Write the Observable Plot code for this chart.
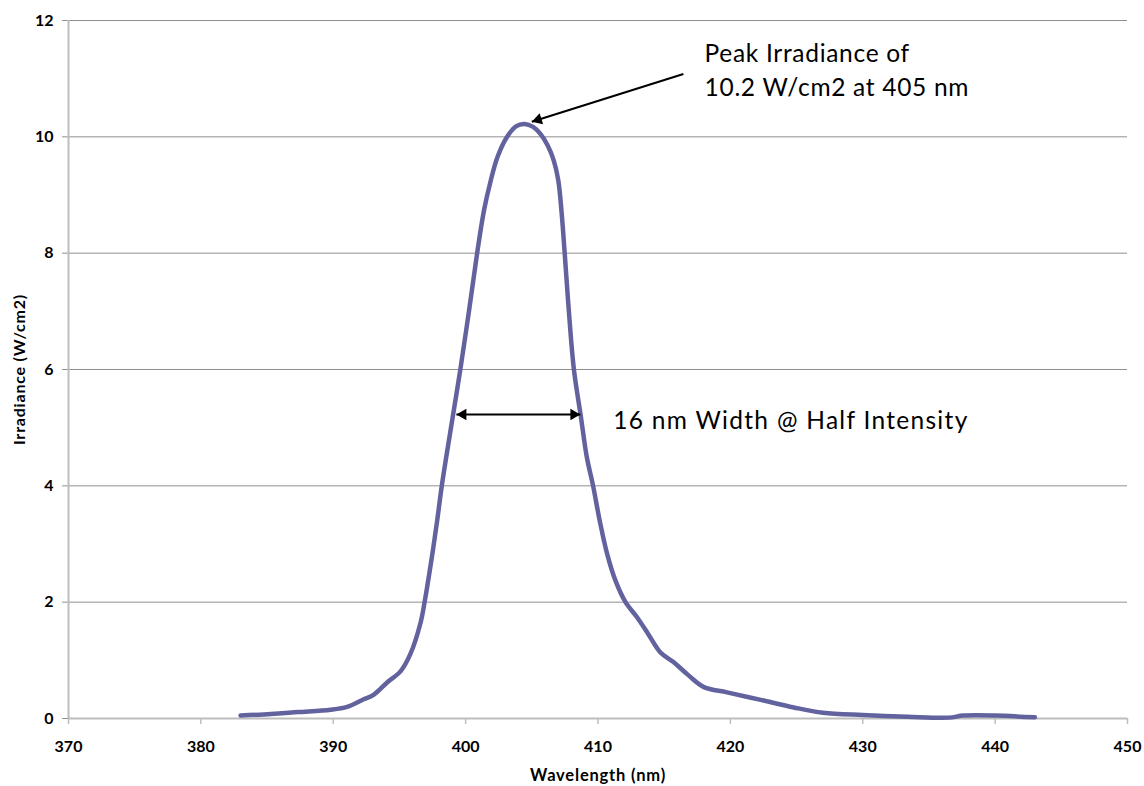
<!DOCTYPE html>
<html>
<head>
<meta charset="utf-8">
<script src="https://cdn.jsdelivr.net/npm/d3@7"></script>
<script src="https://cdn.jsdelivr.net/npm/@observablehq/plot@0.6"></script>
<style>
  html, body { margin: 0; padding: 0; background: #fff; }
  #chart { width: 1144px; height: 786px; }
</style>
</head>
<body>
<div id="chart"></div>
<script>
// Spectrum: wavelength (nm) and irradiance (W/cm2)
const wavelength = [383, 384.75, 387.3, 389.8, 391.05, 392.3, 393.07, 394.07, 395.08, 395.83, 396.6, 396.9, 397.4, 397.85, 398.2, 398.98, 399.6, 400.25, 400.87, 401.4, 401.9, 402.4, 403.1, 403.8, 404.45, 405.1, 405.65, 406.2, 406.66, 407.0, 407.25, 407.5, 407.8, 408.18, 408.7, 409.15, 409.63, 410.13, 410.69, 411.32, 412.08, 412.95, 413.8, 414.7, 415.7, 416.8, 418.0, 419.75, 422.3, 424.8, 427.0, 430.0, 433.4, 436.5, 437.6, 440.0, 443.0];
const irradiance = [0.05, 0.07, 0.11, 0.15, 0.2, 0.33, 0.41, 0.62, 0.81, 1.11, 1.65, 2.0, 2.7, 3.4, 4.0, 5.12, 6.0, 7.0, 8.0, 8.75, 9.25, 9.65, 9.99, 10.18, 10.22, 10.17, 10.05, 9.85, 9.59, 9.25, 8.7, 7.95, 7.0, 6.0, 5.2, 4.5, 4.0, 3.4, 2.83, 2.37, 2.0, 1.74, 1.45, 1.14, 0.97, 0.75, 0.54, 0.45, 0.32, 0.19, 0.1, 0.06, 0.03, 0.015, 0.05, 0.05, 0.02];

const xTicks = [370, 380, 390, 400, 410, 420, 430, 440, 450];
const yTicks = [0, 2, 4, 6, 8, 10, 12];
const xLabel = "Wavelength (nm)";
const yLabel = "Irradiance (W/cm2)";

// Annotations (data coordinates)
const peakNoteLines = ["Peak Irradiance of", "10.2 W/cm2 at 405 nm"];
const peakNoteX = [418.05, 418.05];
const peakNoteY = [11.42, 10.84];
const peakArrowFrom = [416.45, 11.08];
const peakArrowTo = [405.0, 10.26];
const widthNote = "16 nm Width @ Half Intensity";
const widthNoteX = 411.15;
const widthNoteY = 5.12;
const halfArrowY = 5.226;
const halfArrowX = [399.3, 408.67];

const W = 1144, H = 786, mL = 68, mR = 17, mT = 20, mB = 68;
const pxPerX = (W - mL - mR) / (xTicks[xTicks.length - 1] - xTicks[0]);
const pxPerY = (H - mT - mB) / (yTicks[yTicks.length - 1] - yTicks[0]);

const spectrum = wavelength.map((w, i) => ({w, v: irradiance[i]}));
const notes = peakNoteLines.map((t, i) => ({t, x: peakNoteX[i], y: peakNoteY[i]}));

// arrowhead geometry (d3 triangle: tip at 2*|y| from centre)
const headR = 4.3;
const tipDist = 2 * Math.sqrt(Math.PI * headR * headR / (3 * Math.sqrt(3)));
const sdx = (peakArrowTo[0] - peakArrowFrom[0]) * pxPerX;
const sdy = -(peakArrowTo[1] - peakArrowFrom[1]) * pxPerY;
const slen = Math.hypot(sdx, sdy);
const ux = sdx / slen, uy = sdy / slen;
const peakRot = Math.atan2(ux, -uy) * 180 / Math.PI;

const chart = Plot.plot({
  width: W, height: H,
  marginLeft: mL, marginRight: mR, marginTop: mT, marginBottom: mB,
  style: {fontFamily: "Lato, 'DejaVu Sans', sans-serif", background: "white", color: "black"},
  x: {domain: [xTicks[0], xTicks[xTicks.length - 1]]},
  y: {domain: [yTicks[0], yTicks[yTicks.length - 1]]},
  marks: [
    Plot.ruleY(yTicks.filter(d => d > 0), {stroke: "#8f8f8f", strokeWidth: 1}),
    Plot.axisY({ticks: yTicks, tickSize: 6, tickPadding: 9, stroke: "#8f8f8f", strokeOpacity: 1, fill: "black",
      fontSize: 16, fontWeight: "bold", label: null}),
    Plot.axisX({ticks: xTicks, tickSize: 6, tickPadding: 16, stroke: "#bdbdbd", strokeOpacity: 1, strokeWidth: 1.5, fill: "black",
      fontSize: 16, fontWeight: "bold", label: null}),
    Plot.ruleX([xTicks[0]], {stroke: "#bdbdbd", strokeWidth: 2}),
    Plot.ruleY([0], {stroke: "#bdbdbd", strokeWidth: 2}),
    Plot.text([yLabel], {frameAnchor: "left", dx: -49, rotate: -90, textAnchor: "middle", lineAnchor: "middle", fontSize: 16, fontWeight: "bold", fill: "black"}),
    Plot.text([xLabel], {frameAnchor: "bottom", dy: 57, textAnchor: "middle", lineAnchor: "middle", fontSize: 16.5, fontWeight: "bold", fill: "black"}),
    Plot.line(spectrum, {x: "w", y: "v", stroke: "#62629f", strokeWidth: 4.5, curve: "catmull-rom", strokeLinecap: "round", strokeLinejoin: "round"}),
    // peak arrow
    Plot.link([0], {x1: () => peakArrowFrom[0], y1: () => peakArrowFrom[1], x2: () => peakArrowTo[0], y2: () => peakArrowTo[1], stroke: "black", strokeWidth: 2}),
    Plot.dot([0], {x: () => peakArrowTo[0], y: () => peakArrowTo[1], symbol: "triangle", r: headR, fill: "black", stroke: "none",
      rotate: peakRot, dx: -ux * tipDist, dy: -uy * tipDist}),
    // half-width double arrow
    Plot.link([0], {x1: () => halfArrowX[0], x2: () => halfArrowX[1], y1: () => halfArrowY, y2: () => halfArrowY, stroke: "black", strokeWidth: 2}),
    Plot.dot([0], {x: () => halfArrowX[0], y: () => halfArrowY, symbol: "triangle", r: headR, fill: "black", stroke: "none", rotate: 270, dx: tipDist}),
    Plot.dot([0], {x: () => halfArrowX[1], y: () => halfArrowY, symbol: "triangle", r: headR, fill: "black", stroke: "none", rotate: 90, dx: -tipDist}),
    // notes
    Plot.text(notes, {x: "x", y: "y", text: "t", textAnchor: "start", fontSize: 24.5, fill: "black"}),
    Plot.text([widthNote], {x: () => widthNoteX, y: () => widthNoteY, textAnchor: "start", fontSize: 24.5, fill: "black"})
  ]
});
// letter spacing to approximate the reference's wider type
d3.select(chart).selectAll("text").each(function () {
  const t = this.textContent;
  if (peakNoteLines.includes(t)) this.setAttribute("letter-spacing", "0.7");
  else if (t === widthNote) this.setAttribute("letter-spacing", "1.3");
  else if (t === xLabel || t === yLabel) this.setAttribute("letter-spacing", "0.8");
});
document.getElementById("chart").appendChild(chart);
</script>
</body>
</html>
